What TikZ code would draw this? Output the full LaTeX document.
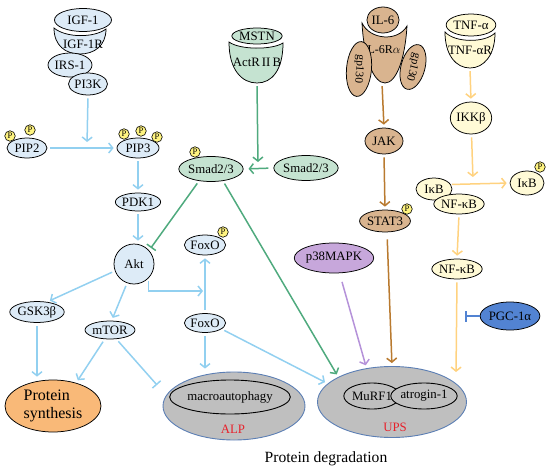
\documentclass[tikz,border=0pt]{standalone}
\usepackage{fontspec}
\setmainfont{Liberation Serif}
\usetikzlibrary{arrows.meta,calc,positioning,shapes.geometric}
\definecolor{SigBlueFill}{HTML}{DDEBF7}
\definecolor{SigBlue}{HTML}{92D0F0}
\definecolor{SigGreenFill}{HTML}{C5E3D1}
\definecolor{SigGreen}{HTML}{4FAA7E}
\definecolor{SigBrownFill}{HTML}{D9B48F}
\definecolor{SigBrown}{HTML}{B97A2F}
\definecolor{SigCreamFill}{HTML}{FFFAD6}
\definecolor{SigYellow}{HTML}{FFD27F}
\definecolor{SigPurpleFill}{HTML}{C7A7DB}
\definecolor{SigPurple}{HTML}{B592D9}
\definecolor{SigPGC}{HTML}{5283D2}
\definecolor{SigPhos}{HTML}{FFF480}
\definecolor{SigGrey}{HTML}{BFBFBF}
\definecolor{SigGreyRim}{HTML}{5B7EB4}
\definecolor{SigOrange}{HTML}{F9B978}
\definecolor{SigRed}{HTML}{E8202A}
\tikzset{
  sig/node/.style={
    ellipse, draw=black, line width=.75pt, inner sep=0pt,
    minimum width=40pt, minimum height=20pt,
    font=\fontsize{12.8}{14}\selectfont
  },
  sig/blue/.style={sig/node, fill=SigBlueFill},
  sig/green/.style={sig/node, fill=SigGreenFill},
  sig/brown/.style={sig/node, fill=SigBrownFill},
  sig/cream/.style={sig/node, fill=SigCreamFill},
  sig/phos/.style={
    circle, draw=black, line width=.6pt, fill=SigPhos, inner sep=0pt,
    minimum size=10.5pt, font=\fontsize{8.5}{9}\selectfont
  },
  sig/cup/.style={draw=black, line width=.75pt},
  sig/label/.style={inner sep=0pt, font=\fontsize{12.8}{14}\selectfont},
  sig/pool/.style={ellipse, draw=SigGreyRim, line width=.9pt, fill=SigGrey, inner sep=0pt},
  sig/ligase/.style={sig/node, line width=.9pt, fill=SigGrey},
  sig/arrow/.style={
    -{Straight Barb[length=4pt,width=10pt]}, line width=1.5pt,
    shorten <=3pt, shorten >=3pt
  },
  sig/block/.style={
    -{Bar[width=11pt]}, line width=1.5pt, shorten <=3pt, shorten >=3pt
  }
}
\begin{document}
\begin{tikzpicture}[x=1pt,y=-1pt]
  \useasboundingbox (0,0) rectangle (550,469);
  % receptors
  \draw[sig/cup, fill=SigBlueFill] (54,28) .. controls (66,38) and (94,38) .. (106,29)
    .. controls (106,46) and (94,54) .. (80,54) .. controls (66,54) and (54,46) .. cycle;
  \draw[sig/cup, fill=SigGreenFill] (229,42) .. controls (240,50) and (272,50) .. (283,43)
    .. controls (283,70) and (272,83) .. (257,83) .. controls (242,83) and (229,70) .. cycle;
  \draw[sig/cup, fill=SigBrownFill] (362,23) .. controls (370,40) and (398,42) .. (407,26)
    .. controls (405,60) and (396,83) .. (385,83) .. controls (374,83) and (364,60) .. cycle;
  \draw[sig/cup, fill=SigCreamFill] (445,32) .. controls (455,43) and (485,43) .. (495,33)
    .. controls (495,55) and (484,68) .. (470,68) .. controls (456,68) and (445,55) .. cycle;

  \node[sig/blue, minimum width=57pt, minimum height=23pt] (igf) at (83,20) {IGF-1};
  \node[sig/label] (igfr) at (83,44) {IGF-1R};
  \node[sig/blue, minimum width=44pt, minimum height=24pt] (irs) at (70,65) {IRS-1};
  \node[sig/blue, minimum width=39pt, minimum height=22pt] (pi3k) at (88,84) {PI3K};

  \node[sig/green, minimum width=43pt, minimum height=16pt] (mstn) at (257,36) {MSTN};
  \node[sig/label, minimum width=54pt, minimum height=41pt] (actr) at (257,62.5) {ActR\,II\,B};

  \node[sig/brown, minimum width=32pt, minimum height=26pt] (il6) at (383,20) {IL-6};
  \node[sig/label, minimum width=45pt, minimum height=60pt, text depth=6pt,
    font=\fontsize{12}{13}\selectfont] (il6r) at (382,53) {IL-6R$\alpha$};
  \node[sig/brown, minimum width=55pt, minimum height=25pt, rotate=-95,
    font=\fontsize{11.5}{12}\selectfont] (gpl) at (359,69) {gp130};
  \node[sig/brown, minimum width=46pt, minimum height=24pt, rotate=-105,
    font=\fontsize{11.5}{12}\selectfont] (gpr) at (413,67) {gp130};

  \node[sig/cream, minimum width=48pt, minimum height=22pt] (tnf) at (471,25) {TNF-α};
  \node[sig/label, minimum width=50pt, minimum height=36pt] (tnfr) at (470,50) {TNF-αR};

  % PI3K/Akt branch
  \node[sig/blue] (pip2) at (27,148) {PIP2};
  \node[sig/phos] (pip2a) at (10,136) {P};
  \node[sig/phos] (pip2b) at (30,130) {P};
  \node[sig/blue, minimum width=42pt] (pip3) at (138,148) {PIP3};
  \node[sig/phos] (pip3a) at (124,134) {P};
  \node[sig/phos] (pip3b) at (141,131) {P};
  \node[sig/phos] (pip3c) at (157,137) {P};
  \node[sig/blue, minimum width=36pt, minimum height=18pt] (pdk1) at (138,202) {PDK1};
  \node[sig/blue, minimum width=40pt, minimum height=40pt] (akt) at (134,264) {Akt};
  \node[sig/blue] (foxo1) at (205,245) {FoxO};
  \node[sig/phos] (foxo1p) at (223,232) {P};
  \node[sig/blue, minimum height=19pt] (foxo2) at (205,323) {FoxO};
  \node[sig/blue, minimum height=21pt] (gsk) at (37,312) {GSK3β};
  \node[sig/blue, minimum height=18pt] (mtor) at (110,330) {mTOR};
  \node[sig/node, fill=SigOrange, minimum width=96pt, minimum height=52pt, align=left,
    font=\fontsize{16}{17.5}\selectfont] (synth) at (53,406) {Protein\\synthesis};

  % MSTN branch
  \node[sig/green, minimum width=46pt, minimum height=25pt] (smadp) at (211,169) {Smad2/3};
  \node[sig/phos] (smadpp) at (195,152) {P};
  \node[sig/green, minimum width=47pt, minimum height=25pt] (smad) at (306,168) {Smad2/3};

  % IL-6 branch
  \node[sig/brown, minimum width=38pt, minimum height=26pt] (jak) at (384,141) {JAK};
  \node[sig/brown, minimum width=45pt, minimum height=22pt] (stat3) at (385,221) {STAT3};
  \node[sig/phos] (stat3p) at (407,209) {P};
  \node[sig/node, fill=SigPurpleFill, minimum width=68pt, minimum height=30pt] (p38) at (334,258) {p38MAPK};

  % TNF branch
  \node[sig/cream, minimum width=32pt, minimum height=32pt] (ikkb) at (471,118) {IKKβ};
  \node[sig/cream, minimum width=36pt, minimum height=22pt] (ikb) at (434,189) {IκB};
  \node[sig/cream, minimum width=45pt, minimum height=20pt] (nfkbc) at (459,204) {NF-κB};
  \node[sig/cream, minimum width=34pt, minimum height=24pt] (ikbp) at (527,183) {IκB};
  \node[sig/phos] (ikbpp) at (540,167) {P};
  \node[sig/cream, minimum width=46pt, minimum height=20pt] (nfkb) at (457,269) {NF-κB};
  \node[sig/node, fill=SigPGC, minimum width=46pt, minimum height=28pt] (pgc) at (510,316) {PGC-1α};

  % degradation
  \node[sig/pool, minimum width=142pt, minimum height=68pt] (alp) at (234,406) {};
  \node[sig/ligase, minimum width=104pt, minimum height=34pt] (macro) at (230,397) {macroautophagy};
  \node[sig/label, text=SigRed] (alplab) at (233,429) {ALP};
  \node[sig/pool, minimum width=149pt, minimum height=71pt] (ups) at (392,402) {};
  \node[sig/ligase, minimum width=48pt, minimum height=26pt] (murf) at (372,396) {MuRF1};
  \node[sig/ligase, minimum width=55pt, minimum height=26pt] (atro) at (424,396) {atrogin-1};
  \node[sig/label, text=SigRed] (upslab) at (395,427) {UPS};
  \node[sig/label, font=\fontsize{15.6}{17}\selectfont] (degr) at (326,459) {Protein degradation};

  \coordinate (pipjoin) at (87,145);
  \coordinate (smadjoin) at (258,165);
  \coordinate (foxojoin) at (206,291);
  \coordinate (alpstop) at (157,385);
  \coordinate (ikbjoin) at (473,180);
  \coordinate (upsnfkb) at (456,375);
  \coordinate (pgcjoin) at (465,316);

  \draw[sig/arrow, SigBlue] (pi3k.south) -- (pipjoin);
  \draw[sig/arrow, SigBlue] (pip2.east) -- (pip3.west);
  \draw[sig/arrow, SigBlue] (pip3.south) -- (pdk1.north);
  \draw[sig/arrow, SigBlue] (pdk1.south) -- (akt.north -| pdk1.south);
  \draw[sig/arrow, SigBlue] (akt.200) -- (gsk.45);
  \draw[sig/arrow, SigBlue] (akt.-110) -- (mtor.80);
  \draw[sig/arrow, SigBlue] (akt.-44) |- (foxojoin);
  \draw[sig/arrow, SigBlue] (foxo2.north) -- (foxo1.south);
  \draw[sig/arrow, SigBlue] (foxo2.south) -- (foxo2.south |- alp.north);
  \draw[sig/arrow, SigBlue] (foxo2.-20) -- (ups.164);
  \draw[sig/arrow, SigBlue] (gsk.south) -- (gsk.south |- synth.north);
  \draw[sig/arrow, SigBlue] (mtor.-120) -- (synth.45);
  \draw[sig/block, SigBlue, shorten >=0pt] (mtor.-55) -- (alpstop);

  \draw[sig/arrow, SigGreen] (actr.south) -- (smadjoin);
  \draw[sig/arrow, SigGreen, shorten <=5pt, shorten >=5pt] (smad.west) -- (smadp.east);
  \draw[sig/block, SigGreen] (smadp.-135) -- (akt.42);
  \draw[sig/arrow, SigGreen] (smadp.-45) -- (ups.155);

  \draw[sig/arrow, SigBrown] (il6r.south) -- (jak.north);
  \draw[sig/arrow, SigBrown] (jak.south) -- (stat3.north);
  \draw[sig/arrow, SigBrown, shorten <=7pt] (stat3.-80) -- (ups.north);
  \draw[sig/arrow, SigPurple, shorten <=9pt] (p38.-70) -- (ups.127);

  \draw[sig/arrow, SigYellow] (tnfr.south) -- (ikkb.north);
  \draw[sig/arrow, SigYellow] (ikkb) -- (ikbjoin);
  \draw[sig/arrow, SigYellow, shorten <=1pt] (ikb.15) -- (ikbp.west);
  \draw[sig/arrow, SigYellow] (nfkbc.south) -- (nfkb.north);
  \draw[sig/arrow, SigYellow] (nfkb.south) -- (upsnfkb);
  \draw[sig/block, SigPGC, shorten <=0pt, shorten >=0pt] (pgc.west) -- (pgcjoin);
\end{tikzpicture}
\end{document}
